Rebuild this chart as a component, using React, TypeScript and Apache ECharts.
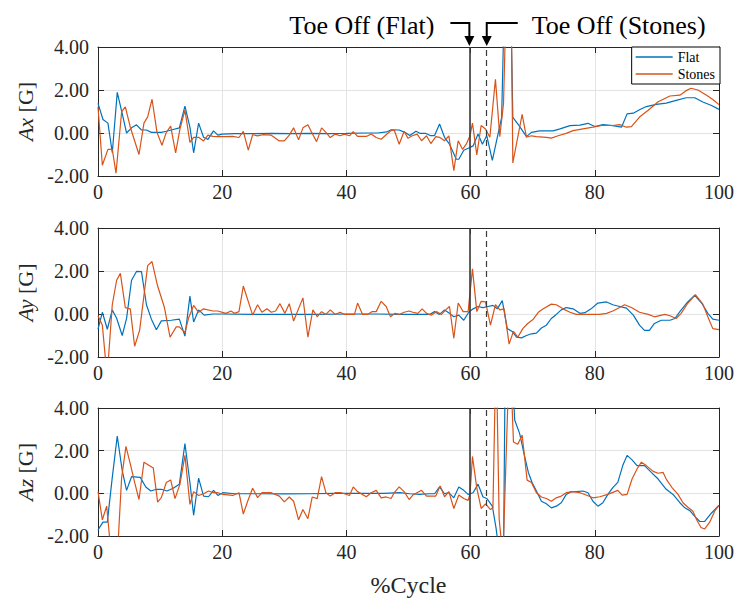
import React, { useEffect, useRef } from "react";
import * as echarts from "echarts";

// ---------- data ----------
const X_MIN = 0;
const X_MAX = 100;
const X_STEP = 20;
const Y_MIN = -2;
const Y_MAX = 4;
const Y_STEP = 2;
const TOE_OFF_FLAT = 59.8;
const TOE_OFF_STONES = 62.6;
const SERIES_NAMES = ["Flat", "Stones"];
const PANEL_NAMES = ["Ax", "Ay", "Az"];
const X_TITLE = "%Cycle";
const ANNOT_FLAT = "Toe Off (Flat)";
const ANNOT_STONES = "Toe Off (Stones)";

const axFlat: [number, number][] = [
  [0, 1.38], [0.8, 0.63], [1.6, 0.46], [2.3, -0.92], [3.1, 1.89], [3.9, 0.9], [4.6, 0.0], [5.4, 0.24],
  [6.2, 0.38], [7.0, 0.14], [7.8, 0.14], [8.6, 0.03], [9.4, 0.03], [10.2, 0.03], [11.0, 0.08], [11.8, 0.14],
  [13.1, 0.24], [14.0, 1.25], [14.8, 0.27], [15.4, -0.92], [16.2, 0.46], [17.0, -0.2], [17.7, -0.3], [18.6, 0.1],
  [19.3, -0.1], [20.0, -0.05], [22, -0.03], [25, -0.03], [28, -0.02], [31, -0.03], [34, -0.02], [37, -0.03],
  [40, -0.02], [43, 0.0], [45, 0.0], [46.5, 0.05], [47.2, 0.15], [48.5, 0.14], [49.4, 0.03], [50.2, -0.12],
  [51.2, 0.08], [51.9, -0.02], [52.8, -0.02], [53.5, -0.12], [54.2, -0.12], [55.0, 0.42], [55.8, -0.2], [56.6, -0.52],
  [57.7, -1.22], [58.1, -1.22], [58.9, -0.8], [59.7, -0.7], [60.4, -0.6], [61.2, -0.05], [61.9, -0.52], [62.6, -0.12],
  [63.5, -1.27], [64.3, -0.2], [65.0, 0.73], [65.5, 7], [66.4, 7], [66.8, 0.73], [67.8, 0.34], [69.0, -0.17],
  [69.8, 0.03], [71.1, 0.1], [73.3, 0.1], [74.4, 0.19], [76.0, 0.34], [77.6, 0.37], [78.9, 0.45], [80.0, 0.3],
  [81.3, 0.39], [82.9, 0.34], [84.3, 0.27], [85.2, 0.89], [86.2, 0.92], [87.2, 1.08], [88.3, 1.23], [89.9, 1.33],
  [91.5, 1.39], [93.1, 1.52], [94.7, 1.64], [96.1, 1.64], [97.4, 1.44], [98.8, 1.28], [100, 1.1],
];

const axStones: [number, number][] = [
  [0, 1.22], [0.7, -1.5], [1.6, -0.76], [2.3, -0.76], [2.9, -1.87], [3.8, 0.98], [4.4, 1.22], [5.2, 0.27],
  [6.6, -1.0], [7.4, 0.46], [8.0, 0.75], [8.7, 1.57], [9.5, 0.03], [10.3, -0.57], [11.0, 0.03], [11.7, 0.32],
  [12.5, -0.92], [13.2, 0.19], [14.0, 1.06], [14.8, -0.44], [15.4, -0.2], [16.2, -0.2], [17.0, -0.37], [17.7, -0.1],
  [18.5, -0.16], [19.3, -0.17], [20.1, -0.17], [21.7, -0.16], [22.7, -0.21], [23.4, 0.08], [24.2, -0.8], [24.9, -0.08],
  [25.7, -0.13], [26.5, -0.08], [27.9, -0.1], [29.2, -0.37], [30.0, -0.37], [30.8, -0.1], [31.5, 0.24], [32.3, -0.32],
  [33.0, 0.24], [33.8, 0.38], [34.5, -0.02], [35.2, -0.4], [36.0, 0.24], [36.7, 0.03], [37.4, -0.21], [38.2, -0.05],
  [39.0, -0.13], [39.7, -0.05], [40.5, -0.13], [41.1, 0.06], [41.8, -0.16], [43.2, -0.16], [44.0, -0.05], [44.8, -0.21],
  [45.6, -0.29], [46.4, -0.08], [47.2, 0.11], [47.7, 0.14], [48.5, -0.52], [49.3, 0.08], [49.9, -0.24], [50.6, -0.13],
  [51.4, -0.05], [52.1, -0.36], [52.9, -0.13], [53.6, -0.49], [54.4, -0.17], [55.0, -0.2], [55.8, -0.36], [56.5, -0.13],
  [57.3, -1.75], [58.0, -0.36], [58.7, -0.76], [59.3, -0.52], [59.9, -0.13], [60.3, 0.46], [61.0, -1.02], [61.7, 0.35],
  [62.4, 0.19], [63.1, -0.2], [64.0, 2.5], [64.7, -0.17], [65.3, 1.37], [65.8, 7], [66.5, 7], [66.8, -1.39],
  [68.3, 0.87], [69.0, -0.2], [69.8, -0.13], [70.6, -0.17], [72.2, -0.2], [73.0, -0.24], [74.1, -0.13], [75.4, -0.02],
  [76.5, 0.11], [78.1, 0.19], [79.7, 0.27], [81.1, 0.35], [82.9, 0.35], [84.0, 0.39], [85.1, 0.27], [85.9, 0.3],
  [87.2, 0.74], [88.6, 1.06], [90.2, 1.45], [92.1, 1.72], [93.7, 1.76], [94.7, 1.97], [95.5, 2.08], [96.6, 2.0],
  [98.0, 1.76], [99.0, 1.56], [100, 1.32],
];

const ayFlat: [number, number][] = [
  [0, -0.71], [0.7, 0.08], [1.5, -0.71], [2.3, 0.19], [3.0, -0.2], [3.9, -1.0], [4.6, -0.2], [5.4, 1.57],
  [6.2, 1.98], [7.0, 1.97], [7.8, 0.43], [8.6, -0.24], [9.4, -0.73], [10.2, -0.32], [11.8, -0.29], [13.1, -0.24],
  [14.0, -1.03], [14.8, 0.83], [15.4, -0.37], [16.2, 0.19], [17.1, -0.05], [18.5, 0.0], [20, 0.0], [25, -0.02],
  [30, -0.02], [35, -0.02], [40, 0.0], [45, 0.0], [48.6, -0.02], [50.2, -0.02], [51.8, -0.02], [53.4, -0.02],
  [54.2, 0.11], [55.0, -0.02], [55.8, 0.19], [56.6, 0.03], [57.3, -0.13], [58.1, -0.05], [58.9, -0.29], [59.7, 0.08],
  [60.4, 0.24], [61.2, 0.35], [62.0, 0.3], [62.8, 0.35], [63.6, 0.4], [64.3, 0.24], [65.1, 0.62], [65.9, -0.68],
  [66.7, -0.81], [67.4, -1.08], [68.2, -1.11], [69.0, -1.0], [69.8, -0.92], [70.6, -0.89], [71.4, -0.65], [72.2, -0.52],
  [73.0, -0.21], [73.8, -0.02], [74.6, 0.19], [75.4, 0.3], [76.5, 0.24], [77.6, 0.03], [78.4, 0.06], [79.4, 0.24],
  [80.5, 0.51], [81.9, 0.56], [82.9, 0.43], [84.0, 0.35], [85.1, 0.27], [86.2, -0.05], [87.2, -0.52], [88.0, -0.76],
  [88.8, -0.76], [89.6, -0.44], [90.7, -0.29], [92.1, -0.29], [92.9, -0.21], [93.7, 0.11], [94.8, 0.51], [96.1, 0.87],
  [97.2, 0.51], [98.2, 0.03], [99.0, -0.24], [100, -0.29],
];

const ayStones: [number, number][] = [
  [0, -0.08], [0.7, -0.52], [1.3, -2.4], [1.6, -2.4], [2.3, 0.43], [3.0, 1.57], [3.6, 1.89], [4.4, 0.3],
  [5.2, 0.24], [5.9, -1.5], [6.7, -0.76], [8.0, 2.25], [8.7, 2.44], [9.6, 1.3], [10.7, 0.3], [11.6, -1.08],
  [12.6, -0.6], [13.1, -0.6], [14.0, -0.87], [14.6, -0.17], [15.4, 0.4], [16.2, 0.08], [17.0, 0.24], [18.5, 0.14],
  [19.3, 0.14], [20.6, 0.03], [21.4, 0.14], [22.0, 0.03], [22.7, 0.11], [23.4, 1.3], [24.9, -0.05], [25.7, 0.43],
  [26.4, 0.08], [27.2, 0.24], [27.9, 0.08], [28.6, 0.14], [29.3, 0.48], [30.1, 0.03], [30.8, 0.48], [31.5, -0.33],
  [33.0, 0.75], [33.8, -1.08], [34.6, 0.19], [35.3, -0.13], [36.0, 0.11], [36.7, -0.02], [37.4, 0.19], [38.2, -0.02],
  [39.0, 0.08], [39.7, -0.02], [41.3, -0.02], [41.8, 0.51], [42.6, -0.02], [43.4, -0.02], [44.1, 0.11], [44.8, 0.11],
  [45.6, 0.59], [46.4, 0.35], [47.1, -0.13], [47.8, 0.03], [48.5, -0.02], [49.3, 0.08], [50.1, 0.14], [50.7, 0.08],
  [51.5, 0.03], [52.2, 0.24], [52.9, 0.03], [53.7, -0.05], [54.5, 0.11], [55.3, -0.02], [56.0, 0.19], [56.6, 0.35],
  [57.3, -1.13], [58.0, 0.51], [58.8, 0.11], [59.6, 0.11], [60.3, 2.1], [61.0, 0.11], [61.7, 0.59], [62.4, 0.56],
  [63.2, -0.52], [64.0, 0.43], [64.7, 0.19], [65.4, 0.24], [66.2, -1.4], [66.9, -0.81], [67.6, -1.08], [68.4, -0.68],
  [69.2, -0.44], [70.1, -0.24], [70.9, 0.08], [71.7, 0.24], [73.0, 0.46], [73.8, 0.43], [74.9, 0.24], [76.0, 0.08],
  [77.0, -0.02], [78.6, -0.02], [80.8, -0.02], [81.9, 0.03], [82.9, 0.14], [84.0, 0.3], [84.8, 0.43], [85.9, 0.3],
  [87.2, 0.08], [88.6, -0.02], [89.6, -0.13], [91.3, -0.02], [92.1, -0.08], [93.1, -0.21], [93.9, 0.03], [95.0, 0.51],
  [96.2, 0.9], [97.4, 0.46], [98.2, -0.13], [99.0, -0.68], [100, -0.73],
];

const azFlat: [number, number][] = [
  [0, -1.71], [0.8, -1.35], [1.5, -1.35], [2.3, 0.75], [3.1, 2.68], [3.9, 1.06], [4.6, 0.14], [5.4, 0.78],
  [6.8, 0.75], [7.7, 0.3], [8.5, 0.11], [9.4, 0.19], [10.2, 0.19], [11.1, 0.11], [12.1, 0.24], [13.1, 0.43],
  [14.0, 2.33], [14.8, 0.51], [15.4, -1.03], [16.2, 0.71], [17.0, -0.13], [17.8, -0.16], [18.6, 0.14], [19.3, -0.1],
  [20.1, 0.03], [22, -0.02], [26, -0.02], [30, -0.03], [34, -0.02], [38, 0.0], [42, 0.0], [46, 0.0],
  [48.6, 0.03], [50.2, -0.02], [51.8, -0.05], [53.4, -0.02], [54.2, -0.02], [55.0, 0.3], [55.8, -0.02], [56.5, 0.03],
  [57.3, -0.21], [58.1, 0.3], [58.9, 0.14], [59.6, -0.05], [60.4, 0.03], [61.2, 0.43], [62.0, -0.17], [62.6, -0.24],
  [63.5, -0.6], [64.1, -1.63], [64.7, -3], [65.3, -3], [65.6, 7], [66.5, 7], [67.1, 3.44], [67.9, 2.8],
  [68.6, 1.86], [69.3, 0.98], [69.9, 0.51], [70.6, 0.11], [71.4, -0.37], [72.2, -0.49], [73.0, -0.68], [73.8, -0.6],
  [74.6, -0.44], [75.4, -0.05], [76.2, 0.08], [77.0, 0.08], [78.1, 0.11], [78.9, 0.03], [79.7, -0.37], [80.5, -0.6],
  [81.3, -0.44], [82.1, -0.05], [82.9, 0.27], [83.7, 0.51], [84.5, 1.3], [85.2, 1.78], [86.0, 1.57], [86.8, 1.3],
  [88.0, 1.3], [89.1, 0.98], [90.2, 0.67], [91.5, 0.19], [92.6, -0.05], [93.7, -0.44], [94.5, -0.68], [95.3, -0.81],
  [96.1, -1.08], [96.9, -1.32], [97.7, -1.32], [98.8, -0.92], [100, -0.56],
];

const azStones: [number, number][] = [
  [0, 0.08], [0.7, -1.24], [1.4, -0.6], [2.0, -2.5], [3.2, -2.5], [3.8, 0.71], [4.5, 2.2], [5.2, 1.38],
  [5.9, 0.51], [6.6, -0.29], [7.4, 1.46], [8.9, 1.19], [9.6, -0.41], [10.2, -0.2], [11.0, 0.51], [11.7, 0.63],
  [12.4, -0.25], [13.2, 0.43], [14.0, 1.78], [14.8, -0.52], [15.4, 0.08], [16.2, -0.1], [17.0, -0.02], [17.8, 0.11],
  [18.6, 0.03], [19.3, 0.03], [20.1, -0.05], [21.7, -0.1], [22.7, 0.03], [23.4, -0.97], [24.1, -0.37], [24.9, 0.24],
  [25.7, -0.2], [26.4, 0.03], [27.9, 0.03], [29.2, -0.13], [30.0, -0.4], [30.8, -0.17], [31.5, -0.37], [32.3, -1.24],
  [33.0, -0.76], [33.8, -1.19], [34.5, -0.17], [35.3, -0.25], [36.0, 0.78], [36.7, 0.03], [37.4, -0.13], [38.2, 0.03],
  [39.0, 0.03], [39.7, -0.02], [40.5, -0.1], [41.1, 0.3], [41.8, 0.08], [43.2, -0.16], [44.0, 0.03], [44.8, 0.14],
  [45.6, -0.21], [46.4, -0.17], [47.2, -0.24], [47.7, 0.03], [48.5, 0.3], [49.3, 0.08], [50.1, -0.29], [50.7, -0.08],
  [52.1, 0.14], [52.9, -0.13], [53.7, -0.13], [54.4, -0.13], [55.1, 0.35], [55.8, -0.16], [56.5, 0.08], [57.3, -0.71],
  [58.1, -0.08], [58.9, -0.24], [59.6, -0.33], [59.9, -0.05], [60.3, 1.73], [61.0, 0.24], [61.7, -0.71], [62.4, -0.49],
  [63.2, -0.76], [63.6, -0.68], [64.1, 7], [64.6, -1.2], [65.2, -3], [66.3, 7], [66.9, 2.41], [67.6, 2.3],
  [68.3, 2.73], [69.1, 0.62], [69.8, 0.51], [70.6, 0.03], [71.4, -0.17], [72.2, -0.24], [73.0, -0.37], [73.8, -0.21],
  [74.6, -0.13], [75.4, 0.03], [76.5, 0.08], [77.6, 0.03], [78.6, -0.08], [79.7, -0.21], [80.8, -0.16], [82.1, -0.05],
  [83.7, 0.14], [84.4, -0.08], [85.2, -0.05], [86.0, 0.67], [86.8, 1.14], [87.5, 1.46], [88.3, 1.3], [89.4, 1.03],
  [90.2, 0.94], [91.0, 0.98], [91.5, 0.67], [92.5, 0.24], [93.4, -0.05], [94.2, -0.44], [95.0, -0.65], [95.8, -0.84],
  [96.4, -1.24], [97.1, -1.6], [97.7, -1.67], [98.5, -1.35], [99.3, -0.84], [100, -0.56],
];

const PANEL_DATA = [
  [axFlat, axStones],
  [ayFlat, ayStones],
  [azFlat, azStones],
];

// ---------- layout / style ----------
const W = 738;
const H = 599;
const GRID_LEFT = 98;
const GRID_RIGHT = 19;
const GRID_TOPS = [47, 228, 408];
const GRID_HEIGHTS = [129, 129, 128];
const FONT = "'Liberation Serif', 'Times New Roman', serif";
const AXIS_COLOR = "#262626";
const COLORS = ["#0072BD", "#D95319"];

export default function App() {
  const ref = useRef<HTMLDivElement>(null);

  useEffect(() => {
    if (!ref.current) return;
    const chart = echarts.init(ref.current, undefined, { renderer: "svg" });
    const plotW = W - GRID_LEFT - GRID_RIGHT;
    const px = (p: number) => GRID_LEFT + ((p - X_MIN) / (X_MAX - X_MIN)) * plotW;

    const grids = GRID_TOPS.map((top, i) => ({
      left: GRID_LEFT,
      right: GRID_RIGHT,
      top,
      height: GRID_HEIGHTS[i],
      containLabel: false,
    }));

    const baseAxisLine = { show: true, onZero: false, lineStyle: { color: AXIS_COLOR, width: 1 } };
    const baseTick = { show: true, inside: true, length: 6, lineStyle: { color: AXIS_COLOR, width: 1 } };

    const xAxes: any[] = [];
    const yAxes: any[] = [];
    for (let i = 0; i < 3; i++) {
      xAxes.push({
        type: "value",
        gridIndex: i,
        position: "bottom",
        min: X_MIN,
        max: X_MAX,
        interval: X_STEP,
        axisLine: baseAxisLine,
        axisTick: baseTick,
        axisLabel: { fontFamily: FONT, fontSize: 20, color: AXIS_COLOR, margin: 6 },
        splitLine: { show: true, lineStyle: { color: "#e3e3e3", width: 1 } },
        name: i === 2 ? X_TITLE : "",
        nameLocation: "middle",
        nameGap: 37,
        nameTextStyle: { fontFamily: FONT, fontSize: 24, color: AXIS_COLOR },
      });
      yAxes.push({
        type: "value",
        gridIndex: i,
        position: "left",
        min: Y_MIN,
        max: Y_MAX,
        interval: Y_STEP,
        axisLine: baseAxisLine,
        axisTick: baseTick,
        axisLabel: {
          fontFamily: FONT,
          fontSize: 20,
          color: AXIS_COLOR,
          margin: 9,
          formatter: (v: number) => v.toFixed(2),
        },
        splitLine: { show: true, lineStyle: { color: "#e3e3e3", width: 1 } },
        name: `{i|${PANEL_NAMES[i]}}{n| [G]}`,
        nameLocation: "middle",
        nameGap: 60,
        nameTextStyle: {
          fontFamily: FONT,
          fontSize: 22,
          color: AXIS_COLOR,
          rich: {
            i: { fontFamily: FONT, fontSize: 22, fontStyle: "italic", color: AXIS_COLOR },
            n: { fontFamily: FONT, fontSize: 22, color: AXIS_COLOR },
          },
        },
      });
    }
    for (let i = 0; i < 3; i++) {
      xAxes.push({
        type: "value",
        gridIndex: i,
        position: "top",
        min: X_MIN,
        max: X_MAX,
        interval: X_STEP,
        axisLine: baseAxisLine,
        axisTick: baseTick,
        axisLabel: { show: false },
        splitLine: { show: false },
      });
      yAxes.push({
        type: "value",
        gridIndex: i,
        position: "right",
        min: Y_MIN,
        max: Y_MAX,
        interval: Y_STEP,
        axisLine: baseAxisLine,
        axisTick: baseTick,
        axisLabel: { show: false },
        splitLine: { show: false },
      });
    }

    const series: any[] = [];
    PANEL_DATA.forEach((pair, i) => {
      pair.forEach((data, k) => {
        const s: any = {
          type: "line",
          name: SERIES_NAMES[k],
          xAxisIndex: i,
          yAxisIndex: i,
          data,
          symbol: "none",
          showSymbol: false,
          clip: true,
          z: 3 + k,
          lineStyle: { color: COLORS[k], width: 1.2 },
          itemStyle: { color: COLORS[k] },
        };
        if (k === 0) {
          s.markLine = {
            silent: true,
            symbol: ["none", "none"],
            label: { show: false },
            animation: false,
            data: [
              { xAxis: TOE_OFF_FLAT, lineStyle: { color: "#3a3a3a", width: 1.6, type: "solid" } },
              { xAxis: TOE_OFF_STONES, lineStyle: { color: "#3a3a3a", width: 1.2, type: [6, 4] } },
            ],
          };
        }
        series.push(s);
      });
    });

    const xf = px(TOE_OFF_FLAT);
    const xs = px(TOE_OFF_STONES);
    const yBar = 23;
    const yStemEnd = 37;
    const yTip = 46;
    const graphic: any[] = [
      {
        type: "text",
        x: xf - 35,
        y: 25,
        style: { text: ANNOT_FLAT, font: `26px ${FONT}`, fill: "#000", align: "right", verticalAlign: "middle" },
      },
      {
        type: "text",
        x: xs + 45,
        y: 25,
        style: { text: ANNOT_STONES, font: `26px ${FONT}`, fill: "#000", align: "left", verticalAlign: "middle" },
      },
      {
        type: "polyline",
        shape: { points: [[xf - 19, yBar], [xf, yBar], [xf, yStemEnd]] },
        style: { stroke: "#000", lineWidth: 2, fill: null },
      },
      {
        type: "polygon",
        shape: { points: [[xf - 5, yStemEnd - 1], [xf + 5, yStemEnd - 1], [xf, yTip]] },
        style: { fill: "#000" },
      },
      {
        type: "polyline",
        shape: { points: [[xs + 31, yBar], [xs, yBar], [xs, yStemEnd]] },
        style: { stroke: "#000", lineWidth: 2, fill: null },
      },
      {
        type: "polygon",
        shape: { points: [[xs - 5, yStemEnd - 1], [xs + 5, yStemEnd - 1], [xs, yTip]] },
        style: { fill: "#000" },
      },
    ];

    chart.setOption({
      animation: false,
      backgroundColor: "#fff",
      grid: grids,
      xAxis: xAxes,
      yAxis: yAxes,
      series,
      graphic,
      legend: {
        data: SERIES_NAMES.map((name) => ({ name, icon: "rect" })),
        orient: "vertical",
        right: GRID_RIGHT - 1,
        top: GRID_TOPS[0],
        itemWidth: 37,
        itemHeight: 1.3,
        itemGap: 3,
        padding: [3, 5, 3, 4],
        borderColor: "#000",
        borderWidth: 1,
        borderRadius: 0,
        backgroundColor: "#fff",
        selectedMode: false,
        textStyle: { fontFamily: FONT, fontSize: 14, color: "#000" },
        z: 10,
      },
    });

    return () => chart.dispose();
  }, []);

  return (
    <div
      ref={ref}
      style={{ position: "fixed", left: 0, top: 0, width: W, height: H, background: "#fff" }}
    />
  );
}
